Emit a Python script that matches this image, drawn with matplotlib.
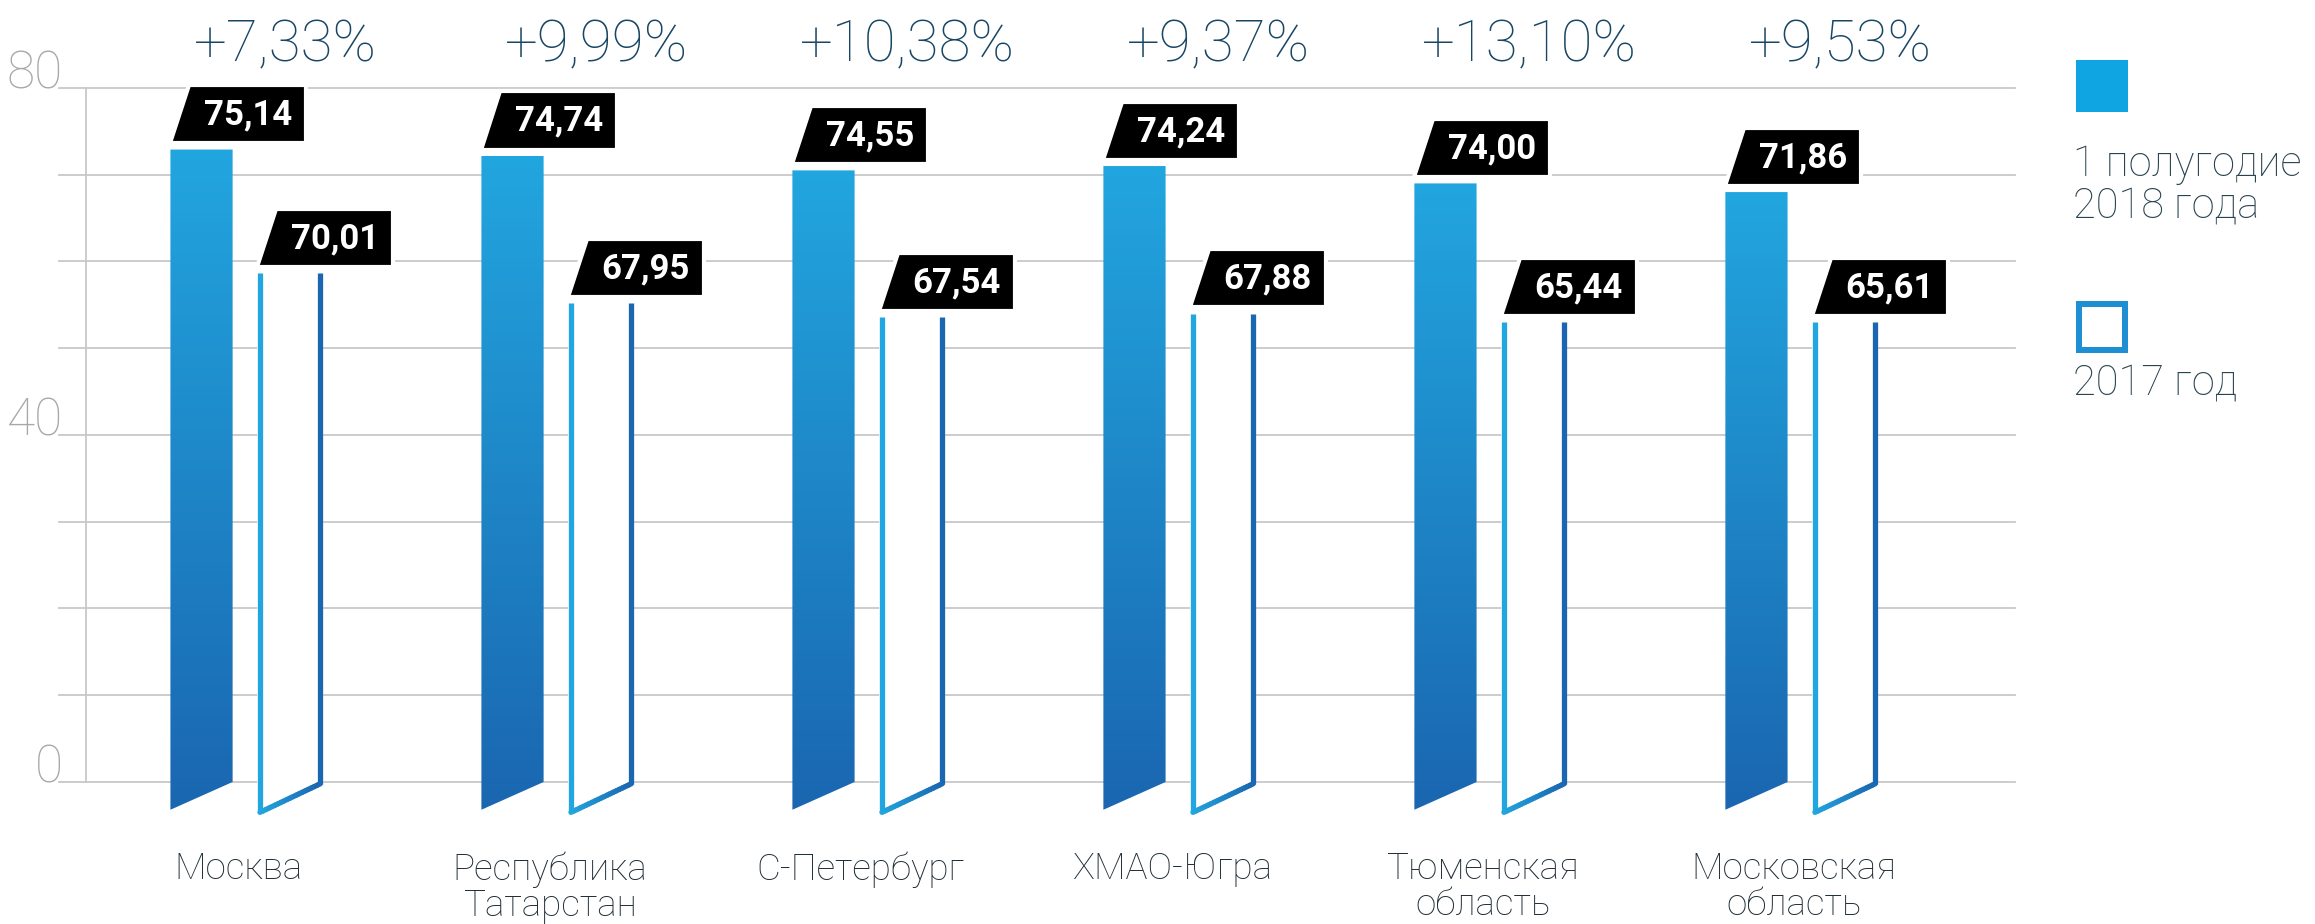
import matplotlib
matplotlib.use("Agg")
import matplotlib.pyplot as plt
import numpy as np
from matplotlib.patches import Polygon, Rectangle
from matplotlib.collections import LineCollection
from matplotlib.colors import LinearSegmentedColormap

categories = ['Москва', 'Республика\nТатарстан', 'С-Петербург', 'ХМАО-Югра',
              'Тюменская\nобласть', 'Московская\nобласть']
val_2018 = ['75,14', '74,74', '74,55', '74,24', '74,00', '71,86']
val_2017 = ['70,01', '67,95', '67,54', '67,88', '65,44', '65,61']
growth = ['+7,33%', '+9,99%', '+10,38%', '+9,37%', '+13,10%', '+9,53%']
# bar heights as drawn in the picture (not to the scale of the labels)
bar_2018 = [72.9, 72.2, 70.5, 71.0, 69.0, 68.0]
bar_2017 = [58.7, 55.2, 53.6, 54.0, 53.0, 53.0]
legend_labels = ['1 полугодие\n2018 года', '2017 год']

plt.rcParams['font.family'] = ['Roboto', 'DejaVu Sans']

W, H = 2315, 924
fig = plt.figure(figsize=(W / 100, H / 100), dpi=100)
ax = fig.add_axes([0, 0, 1, 1])
ax.set_xlim(-0.648, 6.796)
ax.set_ylim(-16.37, 90.14)
ax.axis('off')

light = np.array([34, 166, 223]) / 255
dark = np.array([26, 102, 176]) / 255
grad = LinearSegmentedColormap.from_list('g', [dark, light])
grid_c = '#c8c8c8'

# grid
for v in range(0, 81, 10):
    ax.plot([-0.458, 5.83], [v, v], color=grid_c, lw=1.3, zorder=1)
ax.plot([-0.373, -0.373], [0, 80], color=grid_c, lw=1.3, zorder=1)
for v in (0, 40, 80):
    ax.text(-0.445, v + 1.5, str(v), ha='right', va='center', fontsize=37,
            color='#a8a8a8', fontweight='light')

bw = 0.2
ow = 0.212
off = 0.285
box_w, box_h, slant = 0.437, 6.7, 0.061

def label_box(x0, ybot, txt):
    poly = Polygon([(x0, ybot), (x0 + box_w, ybot), (x0 + box_w, ybot + box_h),
                    (x0 + slant, ybot + box_h)], closed=True, facecolor='black',
                   edgecolor='white', lw=3, zorder=4)
    ax.add_patch(poly)
    ax.text(x0 + slant + (box_w - slant) / 2, ybot + box_h / 2 - 0.1, txt,
            ha='center', va='center', color='white', fontsize=25,
            fontweight='bold', zorder=5)

for i in range(len(categories)):
    # 2018 bar with gradient
    l, r = i - bw / 2, i + bw / 2
    top = bar_2018[i]
    poly = Polygon([(l, top), (r, top), (r, 0), (l, -3.2)], closed=True,
                   facecolor='none', edgecolor='none')
    ax.add_patch(poly)
    im = ax.imshow(np.linspace(0, 1, 256).reshape(-1, 1), cmap=grad,
                   extent=[l, r, -3.3, top], origin='lower', aspect='auto', zorder=2)
    im.set_clip_path(poly)
    label_box(l, top + 0.7, val_2018[i])

    # 2017 outline bar
    cx = i + off
    ol, orr = cx - ow / 2, cx + ow / 2
    t2 = bar_2017[i]
    ax.add_patch(Polygon([(ol, t2), (orr, t2), (orr, 0), (ol, -3.9)], closed=True,
                         facecolor='white', edgecolor='none', zorder=2))
    il, ir = ol + 0.009, orr - 0.009
    ax.plot([il, il], [t2, -3.5], color=light, lw=3.8, zorder=3,
            solid_capstyle='butt')
    ax.plot([ir, ir], [t2, -0.2], color=dark, lw=3.8, zorder=3,
            solid_capstyle='butt')
    n = 20
    xs = np.linspace(il, ir, n + 1)
    ys = np.linspace(-3.5, -0.2, n + 1)
    segs = [[(xs[k], ys[k]), (xs[k + 1], ys[k + 1])] for k in range(n)]
    cols = [light + (dark - light) * (k / n) for k in range(n)]
    ax.add_collection(LineCollection(segs, colors=cols, lw=3.8, zorder=3,
                                     capstyle='round'))
    label_box(ol, t2 + 0.7, val_2017[i])

    # growth
    ax.text(i + 0.27, 84.9, growth[i], ha='center', va='center', fontsize=42,
            color='#184664', fontweight='light')
    # category
    ax.text(i + 0.12, -8.0, categories[i], ha='center', va='top', fontsize=26.5,
            color='#1f2d36', fontweight='light', linespacing=1.0)

# legend (figure pixel positions)
def fx(px):
    return px / W

def fy(px):
    return 1 - px / H

fig.patches.append(Rectangle((fx(2076), fy(112)), 52 / W, 52 / H,
                             transform=fig.transFigure, facecolor='#0ea5e2',
                             edgecolor='none'))
fig.text(fx(2073), fy(185), legend_labels[0], ha='left', va='center',
         fontsize=30, color='#28424f', fontweight='light', linespacing=1.03)
lw_px = 6
sq_l, sq_t, sq_s = 2076, 301, 52
fig.patches.append(Rectangle((fx(sq_l + lw_px / 2), fy(sq_t + sq_s - lw_px / 2)),
                             (sq_s - lw_px) / W, (sq_s - lw_px) / H,
                             transform=fig.transFigure, facecolor='white',
                             edgecolor='#1f8fd4', lw=lw_px * 0.72))
fig.text(fx(2073), fy(383), legend_labels[1], ha='left', va='center',
         fontsize=30, color='#28424f', fontweight='light')

fig.savefig('out.png', dpi=100, facecolor='white')
